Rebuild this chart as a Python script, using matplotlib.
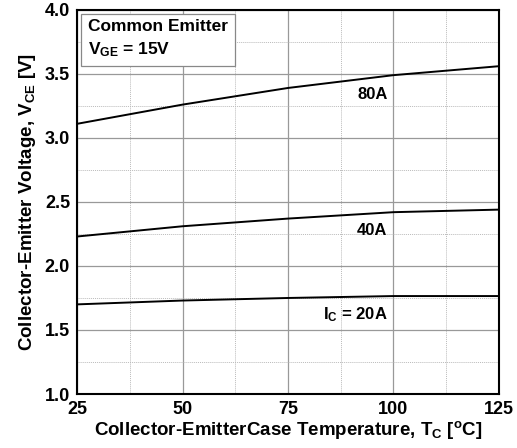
import matplotlib.pyplot as plt
from matplotlib.ticker import MultipleLocator

plt.rcParams['font.family'] = ['Liberation Sans', 'DejaVu Sans']
plt.rcParams['font.weight'] = 'bold'
plt.rcParams['axes.labelweight'] = 'bold'
plt.rcParams['mathtext.fontset'] = 'custom'
plt.rcParams['mathtext.rm'] = 'Liberation Sans:bold'
plt.rcParams['mathtext.bf'] = 'Liberation Sans:bold'
plt.rcParams['mathtext.default'] = 'bf'

# Case temperature (C) and collector-emitter voltage (V) per collector current
temp = [25, 50, 75, 100, 125]
vce_80a = [3.11, 3.26, 3.39, 3.49, 3.56]
vce_40a = [2.23, 2.31, 2.37, 2.42, 2.44]
vce_20a = [1.70, 1.73, 1.75, 1.765, 1.765]

fig = plt.figure(figsize=(5.17, 4.48), dpi=100)
ax = fig.add_axes([0.149, 0.1205, 0.816, 0.8575])

for v in (vce_80a, vce_40a, vce_20a):
    ax.plot(temp, v, color='black', lw=1.4)

ax.set_xlim(25, 125)
ax.set_ylim(1.0, 4.0)
ax.xaxis.set_major_locator(MultipleLocator(25))
ax.xaxis.set_minor_locator(MultipleLocator(12.5))
ax.yaxis.set_major_locator(MultipleLocator(0.5))
ax.yaxis.set_minor_locator(MultipleLocator(0.25))
ax.yaxis.set_major_formatter(plt.FormatStrFormatter('%.1f'))
ax.grid(which='major', color='#999999', lw=0.9)
ax.grid(which='minor', color='#bbbbbb', lw=0.7, ls=(0, (1, 1)))
ax.tick_params(which='both', length=0, labelsize=13, pad=5)
for s in ax.spines.values():
    s.set_linewidth(1.5)

ax.text(95, 3.34, '80A', fontsize=12, ha='center', va='center')
ax.text(95, 2.28, '40A', fontsize=12, ha='center', va='center')
ax.text(91, 1.62, r'I$_{C}$ = 20A', fontsize=12, ha='center', va='center')

ax.text(27.5, 3.925, 'Common Emitter\n' + r'V$_{GE}$ = 15V', fontsize=12.5,
        ha='left', va='top', linespacing=1.45,
        bbox=dict(boxstyle='square,pad=0.4', fc='white', ec='#888888', lw=0.9))

ax.set_xlabel(r'Collector-EmitterCase Temperature, T$_{C}$ [$^{o}$C]',
              fontsize=13.5, labelpad=1)
ax.set_ylabel(r'Collector-Emitter Voltage, V$_{CE}$ [V]', fontsize=13.5, labelpad=5)

fig.savefig('out.png', dpi=100)
